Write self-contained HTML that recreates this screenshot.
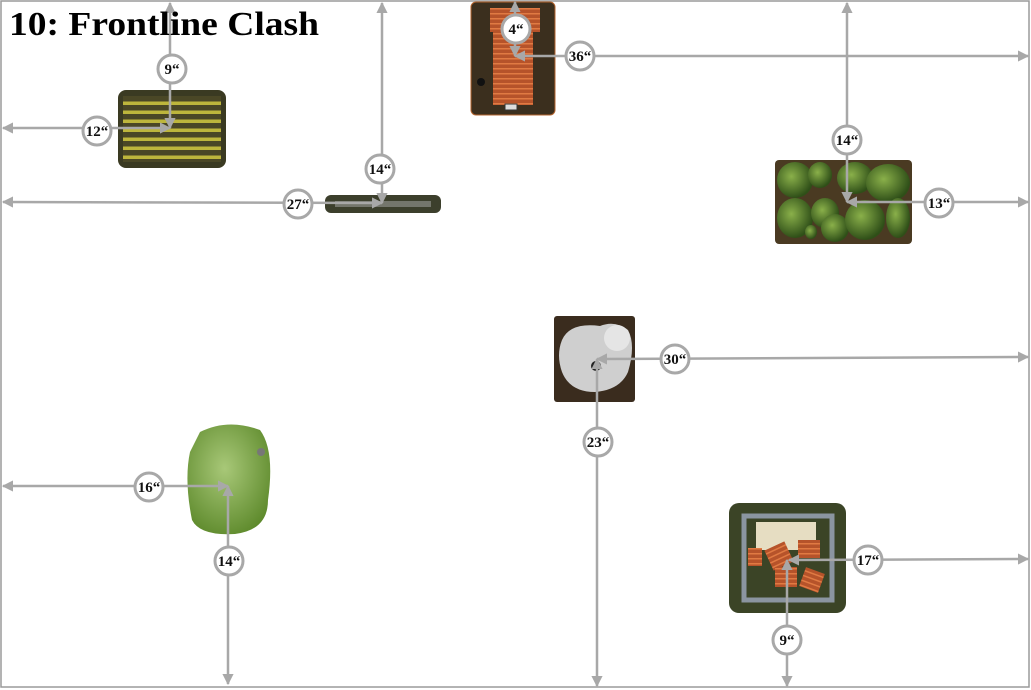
<!DOCTYPE html>
<html><head><meta charset="utf-8"><style>
html,body{margin:0;padding:0;background:#fff;}
svg{display:block;}
text{font-family:"Liberation Serif",serif;font-weight:bold;}
</style></head><body>
<svg width="1031" height="690" viewBox="0 0 1031 690" xmlns="http://www.w3.org/2000/svg">
<defs>
<marker id="a" viewBox="0 0 10 10" refX="9" refY="5" markerWidth="4.5" markerHeight="4.5" orient="auto-start-reverse"><path d="M0,0 L10,5 L0,10 z" fill="#a8a8a8"/></marker>
<pattern id="wheat" width="10" height="9" patternUnits="userSpaceOnUse"><rect width="10" height="9" fill="#4a4726"/><rect y="2.5" width="10" height="3.5" fill="#bdb63c"/></pattern>
<pattern id="roof" width="6" height="5" patternUnits="userSpaceOnUse"><rect width="6" height="5" fill="#b6532a"/><rect y="3" width="6" height="1.5" fill="#e07a43"/></pattern>
<radialGradient id="hill" cx="0.45" cy="0.4" r="0.65"><stop offset="0" stop-color="#a8c878"/><stop offset="1" stop-color="#5e8a2c"/></radialGradient>
<radialGradient id="bush" cx="0.4" cy="0.4" r="0.6"><stop offset="0" stop-color="#8ab04a"/><stop offset="1" stop-color="#2f4f18"/></radialGradient>
</defs>
<rect x="1" y="1" width="1028" height="686" fill="none" stroke="#9a9a9a" stroke-width="1.5"/>

<rect x="118" y="90" width="108" height="78" rx="8" fill="#3a3a22"/>
<rect x="123" y="96" width="98" height="66" fill="url(#wheat)"/>
<rect x="325" y="195" width="116" height="18" rx="6" fill="#3c3f2c"/>
<rect x="335" y="201" width="96" height="6" fill="#8c8f88" opacity="0.7"/>
<rect x="471" y="2" width="84" height="113" rx="5" fill="#3b2f1e" stroke="#b5652f" stroke-width="1"/>
<rect x="490" y="8" width="50" height="24" fill="url(#roof)"/>
<rect x="493" y="30" width="40" height="75" fill="url(#roof)"/>
<rect x="505" y="104" width="12" height="6" fill="#ddd" stroke="#333"/>
<circle cx="481" cy="82" r="4" fill="#111"/>
<rect x="775" y="160" width="137" height="84" rx="4" fill="#4a3a22"/>
<g fill="url(#bush)">
<ellipse cx="795" cy="180" rx="18" ry="18"/><ellipse cx="820" cy="175" rx="12" ry="13"/><ellipse cx="855" cy="178" rx="18" ry="16"/><ellipse cx="888" cy="183" rx="22" ry="19"/>
<ellipse cx="795" cy="218" rx="18" ry="20"/><ellipse cx="825" cy="213" rx="14" ry="15"/><ellipse cx="835" cy="228" rx="14" ry="14"/><ellipse cx="865" cy="220" rx="20" ry="20"/><ellipse cx="898" cy="218" rx="12" ry="20"/><ellipse cx="811" cy="232" rx="6" ry="7"/>
</g>
<rect x="554" y="316" width="81" height="86" rx="3" fill="#3a2c1e"/>
<path d="M562,340 Q570,322 600,326 Q615,320 628,330 Q636,345 628,372 Q620,390 595,392 Q570,392 562,372 Q556,355 562,340z" fill="#cfcfcf"/>
<ellipse cx="617" cy="338" rx="13" ry="13" fill="#e5e5e5"/>
<circle cx="596" cy="366" r="5" fill="#222"/>
<path d="M200,432 Q228,418 260,430 Q275,450 268,500 Q268,530 235,534 Q200,536 192,520 Q184,480 190,452z" fill="url(#hill)"/>
<circle cx="261" cy="452" r="4" fill="#777"/>
<rect x="729" y="503" width="117" height="110" rx="10" fill="#3b4426"/>
<rect x="744" y="516" width="88" height="84" fill="none" stroke="#8b95a0" stroke-width="5"/>
<rect x="756" y="522" width="60" height="28" fill="#e6ddc2"/>
<rect x="768" y="545" width="22" height="22" fill="url(#roof)" transform="rotate(-25 779 556)"/>
<rect x="798" y="540" width="22" height="18" fill="url(#roof)"/>
<rect x="775" y="567" width="22" height="20" fill="url(#roof)"/>
<rect x="802" y="570" width="20" height="20" fill="url(#roof)" transform="rotate(20 812 580)"/>
<rect x="748" y="548" width="14" height="18" fill="url(#roof)"/>

<g stroke="#a8a8a8" stroke-width="2.5" fill="none" marker-start="url(#a)" marker-end="url(#a)">
<line x1="170" y1="128" x2="170" y2="3"/>
<line x1="170" y1="128" x2="3" y2="128"/>
<line x1="382" y1="203" x2="382" y2="3"/>
<line x1="382" y1="203" x2="3" y2="202"/>
<line x1="515" y1="56" x2="515" y2="2"/>
<line x1="515" y1="56" x2="1028" y2="56"/>
<line x1="847" y1="202" x2="847" y2="3"/>
<line x1="847" y1="202" x2="1028" y2="202"/>
<line x1="597" y1="359" x2="1028" y2="357"/>
<line x1="597" y1="359" x2="597" y2="686"/>
<line x1="228" y1="486" x2="3" y2="486"/>
<line x1="228" y1="486" x2="228" y2="684"/>
<line x1="789" y1="560" x2="1028" y2="559"/>
<line x1="787" y1="560" x2="787" y2="686"/>
</g>

<g fill="#fff" stroke="#a8a8a8" stroke-width="3">
<circle cx="172" cy="69" r="14"/><circle cx="97" cy="131" r="14"/>
<circle cx="380" cy="169" r="14"/><circle cx="298" cy="204" r="14"/>
<circle cx="516" cy="29" r="14"/><circle cx="580" cy="56" r="14"/>
<circle cx="847" cy="140" r="14"/><circle cx="939" cy="203" r="14"/>
<circle cx="675" cy="359" r="14"/><circle cx="598" cy="442" r="14"/>
<circle cx="149" cy="487" r="14"/><circle cx="229" cy="561" r="14"/>
<circle cx="868" cy="560" r="14"/><circle cx="787" cy="640" r="14"/>
</g>
<g font-size="15" fill="#111" text-anchor="middle">
<text x="172" y="74">9“</text><text x="97" y="136">12“</text>
<text x="380" y="174">14“</text><text x="298" y="209">27“</text>
<text x="516" y="34">4“</text><text x="580" y="61">36“</text>
<text x="847" y="145">14“</text><text x="939" y="208">13“</text>
<text x="675" y="364">30“</text><text x="598" y="447">23“</text>
<text x="149" y="492">16“</text><text x="229" y="566">14“</text>
<text x="868" y="565">17“</text><text x="787" y="645">9“</text>
</g>
<text x="9" y="35" font-size="34" fill="#000" textLength="310" lengthAdjust="spacingAndGlyphs">10: Frontline Clash</text>
</svg>
</body></html>
